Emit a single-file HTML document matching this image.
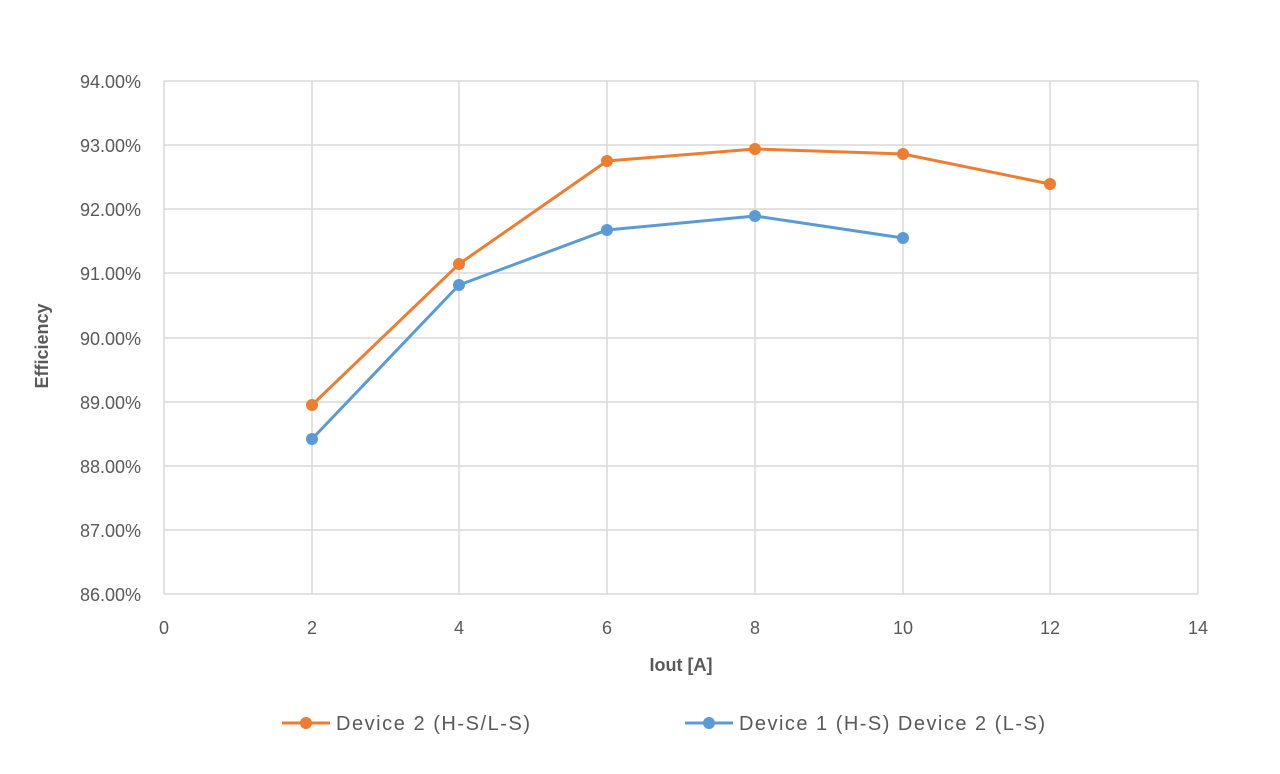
<!DOCTYPE html>
<html><head><meta charset="utf-8"><style>
body{margin:0;background:#fff;}
svg text{font-family:"Liberation Sans",sans-serif;fill:#595959;}
</style></head><body>
<svg width="1280" height="769" xmlns="http://www.w3.org/2000/svg">
<g stroke="#d9d9d9" stroke-width="1.5">
<line x1="164" y1="81" x2="1198" y2="81"/>
<line x1="164" y1="145" x2="1198" y2="145"/>
<line x1="164" y1="209" x2="1198" y2="209"/>
<line x1="164" y1="273" x2="1198" y2="273"/>
<line x1="164" y1="338" x2="1198" y2="338"/>
<line x1="164" y1="402" x2="1198" y2="402"/>
<line x1="164" y1="466" x2="1198" y2="466"/>
<line x1="164" y1="530" x2="1198" y2="530"/>
<line x1="164" y1="594" x2="1198" y2="594"/>
<line x1="164" y1="81" x2="164" y2="594"/>
<line x1="312" y1="81" x2="312" y2="594"/>
<line x1="459" y1="81" x2="459" y2="594"/>
<line x1="607" y1="81" x2="607" y2="594"/>
<line x1="755" y1="81" x2="755" y2="594"/>
<line x1="903" y1="81" x2="903" y2="594"/>
<line x1="1050" y1="81" x2="1050" y2="594"/>
<line x1="1198" y1="81" x2="1198" y2="594"/>
</g>
<g font-size="18" text-anchor="end">
<text x="141" y="88">94.00%</text>
<text x="141" y="152">93.00%</text>
<text x="141" y="216">92.00%</text>
<text x="141" y="280">91.00%</text>
<text x="141" y="345">90.00%</text>
<text x="141" y="409">89.00%</text>
<text x="141" y="473">88.00%</text>
<text x="141" y="537">87.00%</text>
<text x="141" y="601">86.00%</text>
</g>
<g font-size="18" text-anchor="middle">
<text x="164" y="634">0</text><text x="312" y="634">2</text><text x="459" y="634">4</text><text x="607" y="634">6</text><text x="755" y="634">8</text><text x="903" y="634">10</text><text x="1050" y="634">12</text><text x="1198" y="634">14</text>
</g>
<text x="681" y="671" font-size="18" font-weight="bold" text-anchor="middle">Iout [A]</text>
<text x="48" y="346" font-size="18" font-weight="bold" text-anchor="middle" transform="rotate(-90 48 346)">Efficiency</text>
<polyline fill="none" stroke="#ED7D31" stroke-width="3" points="312,405 459,264 607,161 755,149 903,154 1050,184"/>
<g fill="#ED7D31"><circle cx="312" cy="405" r="6"/><circle cx="459" cy="264" r="6"/><circle cx="607" cy="161" r="6"/><circle cx="755" cy="149" r="6"/><circle cx="903" cy="154" r="6"/><circle cx="1050" cy="184" r="6"/></g>
<polyline fill="none" stroke="#5B9BD5" stroke-width="3" points="312,439 459,285 607,230 755,216 903,238"/>
<g fill="#5B9BD5"><circle cx="312" cy="439" r="6"/><circle cx="459" cy="285" r="6"/><circle cx="607" cy="230" r="6"/><circle cx="755" cy="216" r="6"/><circle cx="903" cy="238" r="6"/></g>
<line x1="282" y1="723" x2="330" y2="723" stroke="#ED7D31" stroke-width="3"/><circle cx="306" cy="723" r="6" fill="#ED7D31"/>
<text x="336" y="730" font-size="20" textLength="194" lengthAdjust="spacing">Device 2 (H-S/L-S)</text>
<line x1="685" y1="723" x2="733" y2="723" stroke="#5B9BD5" stroke-width="3"/><circle cx="709" cy="723" r="6" fill="#5B9BD5"/>
<text x="739" y="730" font-size="20" textLength="306" lengthAdjust="spacing">Device 1 (H-S) Device 2 (L-S)</text>
</svg>
</body></html>
